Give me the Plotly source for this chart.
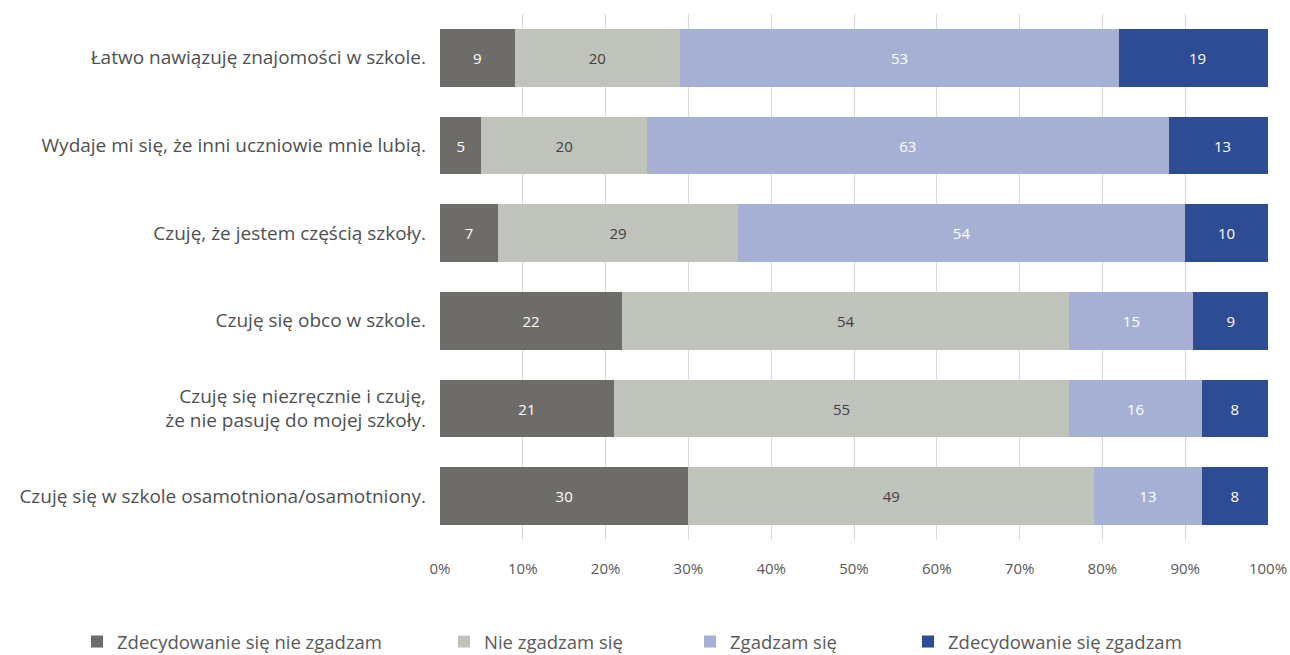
import plotly.graph_objects as go

categories = [
    "Łatwo nawiązuję znajomości w szkole.",
    "Wydaje mi się, że inni uczniowie mnie lubią.",
    "Czuję, że jestem częścią szkoły.",
    "Czuję się obco w szkole.",
    "Czuję się niezręcznie i czuję,<br>że nie pasuję do mojej szkoły.",
    "Czuję się w szkole osamotniona/osamotniony.",
]
series_names = [
    "Zdecydowanie się nie zgadzam",
    "Nie zgadzam się",
    "Zgadzam się",
    "Zdecydowanie się zgadzam",
]
strongly_disagree = [9, 5, 7, 22, 21, 30]
disagree = [20, 20, 29, 54, 55, 49]
agree = [53, 63, 54, 15, 16, 13]
strongly_agree = [19, 13, 10, 9, 8, 8]
tick_vals = [0, 10, 20, 30, 40, 50, 60, 70, 80, 90, 100]
tick_text = ["0%", "10%", "20%", "30%", "40%", "50%", "60%", "70%", "80%", "90%", "100%"]

values = [strongly_disagree, disagree, agree, strongly_agree]
colors = ["#6E6C69", "#C0C2BC", "#A6B0D5", "#2E4C93"]
text_colors = ["white", "#404040", "white", "white"]
legend_ids = ["legend", "legend2", "legend3", "legend4"]

FONT = "'Open Sans', sans-serif"

fig = go.Figure()
for name, vals, col, tcol, lid in zip(series_names, values, colors, text_colors, legend_ids):
    fig.add_trace(go.Bar(
        y=categories, x=vals, name=name, orientation="h",
        marker=dict(color=col, line=dict(width=0)),
        text=[str(v) for v in vals], textposition="inside",
        insidetextanchor="middle", textangle=0,
        textfont=dict(color=tcol, size=15, family=FONT),
        legend=lid, hoverinfo="skip",
    ))

W, H = 1290, 655
ml, mr, mt, mb = 440, 22, 14, 115
leg_left_px = [77, 444, 690, 908]
leg_y_px = 642
layout_legends = {}
for lid, px in zip(legend_ids, leg_left_px):
    layout_legends[lid] = dict(
        orientation="h", xref="container", yref="container",
        x=px / W, y=1 - leg_y_px / H, xanchor="left", yanchor="middle",
        bgcolor="rgba(0,0,0,0)", font=dict(size=18.5, color="#595959", family=FONT),
        itemwidth=30,
    )

fig.update_layout(
    width=W, height=H,
    barmode="stack", bargap=0.34,
    margin=dict(l=ml, r=mr, t=mt, b=mb, autoexpand=False),
    plot_bgcolor="white", paper_bgcolor="white",
    font=dict(family=FONT, color="#595959"),
    xaxis=dict(range=[0, 100], tickvals=tick_vals, ticktext=tick_text,
               showgrid=True, gridcolor="#D9D9D9", gridwidth=1,
               zeroline=False, showline=False, ticks="",
               tickfont=dict(size=15, color="#595959", family=FONT), ticklabelstandoff=18),
    yaxis=dict(autorange="reversed", showline=False,
               ticks="", showgrid=False,
               tickfont=dict(size=19, color="#505050", family=FONT), ticklabelstandoff=13),
    showlegend=True,
    **layout_legends,
)

fig.write_html(
    "out.html",
    config={"displayModeBar": False},
    post_script="document.body.style.margin='0';document.body.style.overflow='hidden';",
)
